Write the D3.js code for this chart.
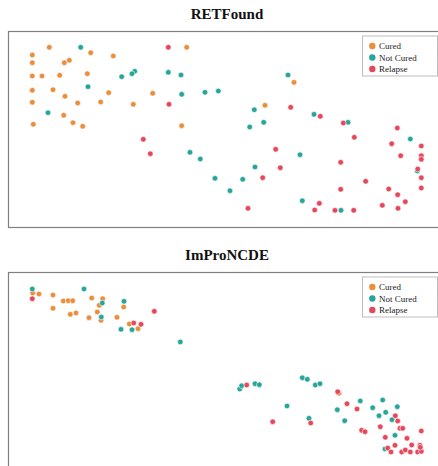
<!DOCTYPE html>
<html>
<head>
<meta charset="utf-8">
<script src="https://cdn.jsdelivr.net/npm/d3@7"></script>
<style>
  body { margin: 0; background: #fff; }
  svg { display: block; }
</style>
</head>
<body>
<div id="container"></div>
<script>
// embedding coordinates (arbitrary units, y up)
var categories = ["Cured", "Not Cured", "Relapse"];
var colors = ["#e98e3c", "#27a59b", "#e5485b"];

var retCured = [[41.3,179.7],[24.3,172],[24.3,164.3],[56.3,164.3],[61.3,166.7],[82.7,174.3],[105.3,171],[24.3,151],[34,151],[51.7,151.7],[79.3,153.3],[24.3,136.7],[45,137.3],[57,130.7],[100.7,134.3],[24.3,124.7],[69.7,124],[92.7,125],[125.3,122.7],[144.7,133.7],[25.3,102.7],[55.7,111.7],[65,104.3],[74.7,100.7],[173.7,101.3],[178.7,179.7],[286,144.7],[257,121.7]];
var retNotCured = [[72.7,179.7],[126.7,155.7],[124,153.3],[113.7,150.3],[80,140.3],[40,114.3],[160.3,154.7],[173,152],[173.7,132.7],[197,134.7],[210.3,136],[182,74.7],[192.3,68],[207,48.7],[280,152],[246.3,117.3],[241.7,100],[255.7,104.7],[306,112.7],[340,104.7],[292,72.3],[247,60],[234.7,47.7],[222,36.3],[294.3,26.3],[333,16.7],[402.3,88],[409.3,56]];
var retRelapse = [[160.3,179.7],[161,122.7],[135.3,87.7],[142.3,73.3],[282.7,119.7],[312.3,110.7],[335.3,104],[346.3,89.7],[389.3,99],[383.7,83.3],[413.3,81],[392.7,71.3],[413.3,71.3],[413.3,67.7],[409.7,58],[413.3,49.3],[413.3,39],[267.7,77.7],[272.3,59.3],[254.7,49.3],[332.7,64.7],[357.7,45.7],[332.7,37.7],[380.7,38],[389.7,32.3],[397.3,25.3],[374.3,21.7],[390,18.7],[240,18.7],[311.3,23.7],[306.7,17],[327,16.7],[345.7,16.7]];

var impCured = [[24.7,175],[31,174],[45,173],[45,159.7],[55.3,167],[60.3,167.3],[64.7,167.3],[83.7,170],[94.7,169.3],[91.3,162.7],[62.3,153.7],[68,155],[89.3,156],[81,150.3],[93,147.7],[115.7,161],[109,150.7],[121.3,144],[130,139.3],[331,74.7]];
var impNotCured = [[24.3,179],[76,179],[94.3,165],[116,166.7],[93.3,151],[113,138.7],[124,138.3],[172.3,126],[231.7,79],[233.7,82.3],[247,84.3],[251.3,83.3],[294.3,90.3],[299.3,88.7],[307.3,83],[312,84.3],[279,62],[301,49.7],[329.3,58.3],[352.3,67],[364.7,60.3],[374.7,68],[377.7,55.7],[371,52.3],[389.3,61.3],[384,48.3],[387,32.7],[336.7,47.3],[377,19]];
var impRelapse = [[24.3,169.3],[125.7,145],[133,143.7],[146.3,156.7],[238.7,83],[329.7,76.3],[339,64.3],[349,59],[264.7,46.3],[302.7,45],[387.3,52.3],[389.7,47],[372.3,41.3],[392,39.7],[394.7,39.7],[353.7,37.7],[357,36.3],[377.3,30.7],[399,29.7],[413.3,37],[379.7,20],[387,22.7],[403.7,23],[412,22.7],[383,16],[393.7,16],[397.3,18],[402.3,16],[409.7,16],[413.3,16.7],[412.3,20.7]];

var panels = [
    { title: "RETFound", top: 31, series: [retCured, retNotCured, retRelapse] },
    { title: "ImProNCDE", top: 272, series: [impCured, impNotCured, impRelapse] }
];

var W = 438, H = 466;
var frameW = 440, frameH = 196, left = 8;

var svg = d3.select("#container").append("svg")
    .attr("width", W)
    .attr("height", H);

var color = d3.scaleOrdinal().domain(categories).range(colors);

panels.forEach(function (p) {
    var x = d3.scaleLinear().domain([0, 440]).range([left, left + frameW]);
    var y = d3.scaleLinear().domain([0, 196]).range([p.top + frameH, p.top]);

    var g = svg.append("g");

    g.append("text")
        .attr("x", 227)
        .attr("y", p.top - 12.5)
        .attr("text-anchor", "middle")
        .style("font-family", "'Liberation Serif', 'Times New Roman', serif")
        .style("font-weight", "bold")
        .style("font-size", "15px")
        .style("fill", "#111")
        .text(p.title);

    g.append("rect")
        .attr("x", left + 0.5)
        .attr("y", p.top + 0.5)
        .attr("width", frameW)
        .attr("height", frameH)
        .style("fill", "none")
        .style("stroke", "#808080")
        .style("stroke-width", 1.2);

    p.series.forEach(function (pts, k) {
        g.selectAll("circle.s" + k)
            .data(pts)
            .enter().append("circle")
            .attr("class", "s" + k)
            .attr("cx", d => x(d[0]))
            .attr("cy", d => y(d[1]))
            .attr("r", 2.8)
            .style("fill", color(categories[k]))
            .style("stroke", "#fff")
            .style("stroke-width", 0.6);
    });

    // legend
    var lg = g.append("g").attr("transform", `translate(362,${p.top + 4.5})`);
    lg.append("rect")
        .attr("x", 0.5)
        .attr("y", 0.5)
        .attr("width", 75)
        .attr("height", 40)
        .style("fill", "#fff")
        .style("stroke", "#bdbdbd")
        .style("stroke-width", 1);
    categories.forEach(function (c, k) {
        var yy = 10.5 + k * 11.5;
        lg.append("circle")
            .attr("cx", 10.3)
            .attr("cy", yy)
            .attr("r", 3.2)
            .style("fill", color(c));
        lg.append("text")
            .attr("x", 17)
            .attr("y", yy + 3)
            .style("font-family", "'Liberation Serif', 'Times New Roman', serif")
            .style("font-size", "9px")
            .style("fill", "#222")
            .text(c);
    });
});
</script>
</body>
</html>
